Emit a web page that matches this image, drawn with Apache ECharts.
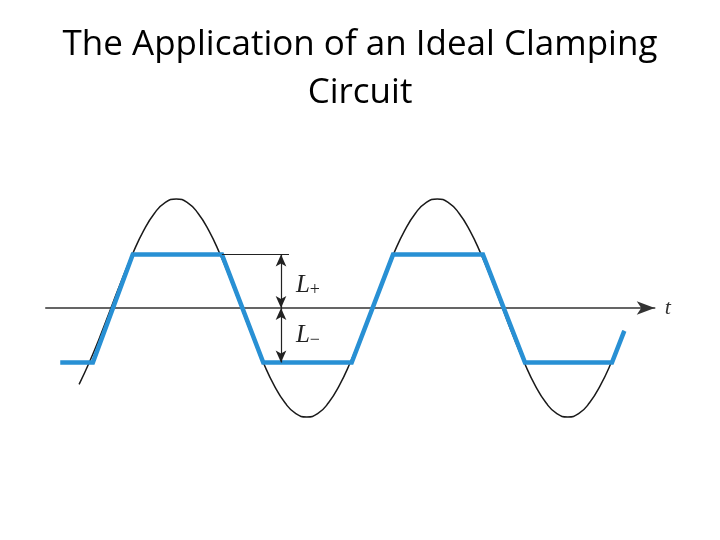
<!DOCTYPE html>
<html>
<head>
<meta charset="utf-8">
<script src="https://cdn.jsdelivr.net/npm/echarts@6/dist/echarts.min.js"></script>
<style>
html,body{margin:0;padding:0;background:#fff;}
#chart{width:720px;height:540px;}
</style>
</head>
<body>
<div id="chart"></div>
<script>
// Phase (degrees) of the input sine wave vs normalized voltage
const sinePhase = [-44, -30, -15, 0, 15, 30, 45, 60, 75, 90, 105, 120, 135, 150, 165, 180, 195, 210, 225, 240, 255, 270, 285, 300, 315, 330, 345, 360, 375, 390, 405, 420, 435, 450, 465, 480, 495, 510, 525, 540, 555, 570, 585, 600, 615, 630, 645, 660, 675, 690, 708];
const sineValue = [-0.7, -0.5, -0.26, 0, 0.26, 0.5, 0.71, 0.87, 0.97, 1, 0.97, 0.87, 0.71, 0.5, 0.26, 0, -0.26, -0.5, -0.71, -0.87, -0.97, -1, -0.97, -0.87, -0.71, -0.5, -0.26, 0, 0.26, 0.5, 0.71, 0.87, 0.97, 1, 0.97, 0.87, 0.71, 0.5, 0.26, 0, -0.26, -0.5, -0.71, -0.87, -0.97, -1, -0.97, -0.87, -0.71, -0.5, -0.21];
// Clamped (limited) output waveform corner points
const clampPhase = [-70, -25, 30, 153, 210, 332, 389, 513, 571, 691, 708];
const clampValue = [-0.5, -0.5, 0.49, 0.49, -0.5, -0.5, 0.49, 0.49, -0.5, -0.5, -0.21];
// Limit levels
const Lplus = 0.49;
const Lminus = -0.5;
const markerPhase = 234.5;
const guideStart = 153;
const guideEnd = 245.5;

const chart = echarts.init(document.getElementById('chart'), null, {renderer: 'canvas'});
const sineData = sinePhase.map((p, i) => [p, sineValue[i]]);
const clampData = clampPhase.map((p, i) => [p, clampValue[i]]);

const serif = 'Liberation Serif';
const option = {
  backgroundColor: '#ffffff',
  animation: false,
  title: {
    text: 'The Application of an Ideal Clamping\nCircuit',
    left: 'center',
    top: 16,
    textStyle: {fontFamily: 'Open Sans', fontSize: 35, fontWeight: 'normal', color: '#000', lineHeight: 48}
  },
  grid: {left: 45.75, width: 609, top: 177.2, height: 261.6},
  xAxis: {
    type: 'value', min: -90, max: 750,
    axisLine: {show: true, onZero: true, symbol: ['none', 'arrow'], symbolSize: [10, 18], lineStyle: {color: '#333', width: 1.5}},
    axisTick: {show: false}, axisLabel: {show: false}, splitLine: {show: false},
    name: 't', nameLocation: 'end', nameGap: 10,
    nameTextStyle: {fontFamily: serif, fontStyle: 'italic', fontSize: 22, color: '#333', verticalAlign: 'middle'}
  },
  yAxis: {type: 'value', min: -1.2, max: 1.2, show: false},
  series: [
    {
      type: 'line', name: 'input', data: sineData, smooth: true, symbol: 'none', z: 2,
      lineStyle: {color: '#1a1a1a', width: 1.5},
      markLine: {
        silent: true, animation: false,
        lineStyle: {color: '#222', width: 1.2, type: 'solid'},
        label: {show: false},
        data: [
          [{coord: [guideStart, Lplus], symbol: 'none'}, {coord: [guideEnd, Lplus], symbol: 'none'}],
          [{coord: [markerPhase, 0], symbol: 'arrow', symbolSize: [8, 12]}, {coord: [markerPhase, Lplus], symbol: 'arrow', symbolSize: [8, 12]}],
          [{coord: [markerPhase, 0], symbol: 'arrow', symbolSize: [8, 12]}, {coord: [markerPhase, Lminus], symbol: 'arrow', symbolSize: [8, 12]}]
        ]
      },
      markPoint: {
        silent: true, animation: false,
        symbol: 'circle', symbolSize: 0,
        label: {
          show: true, position: 'right', distance: 0, color: '#222',
          rich: {
            m: {fontFamily: serif, fontStyle: 'italic', fontSize: 25, color: '#222'},
            s: {fontFamily: serif, fontSize: 18, color: '#222', padding: [10, 0, 0, 0]}
          }
        },
        data: [
          {coord: [255, 0.21], label: {formatter: '{m|L}{s|+}'}},
          {coord: [255, -0.25], label: {formatter: '{m|L}{s|\u2212}'}}
        ]
      }
    },
    {
      type: 'line', name: 'output', data: clampData, symbol: 'none', z: 3,
      lineStyle: {color: '#2890d4', width: 4.5, join: 'miter'}
    }
  ]
};
chart.setOption(option);
</script>
</body>
</html>
